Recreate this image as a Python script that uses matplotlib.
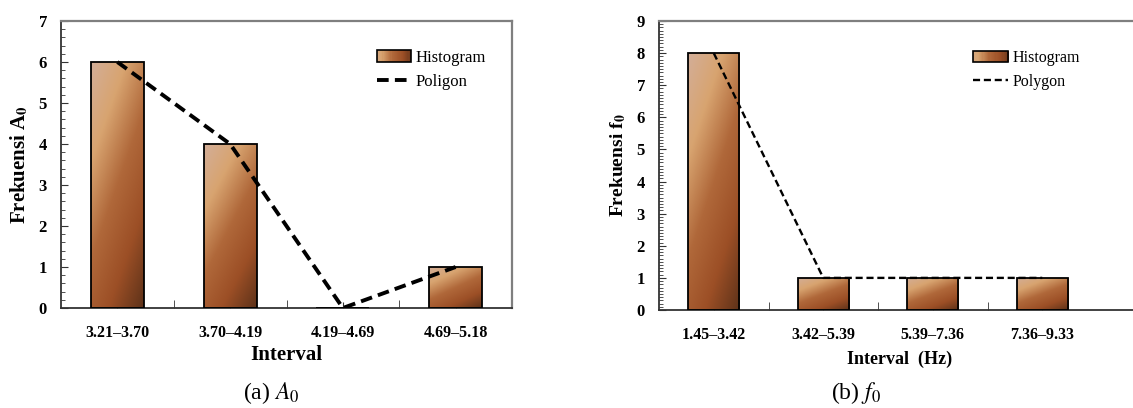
import numpy as np
import matplotlib
matplotlib.use("Agg")
import matplotlib.pyplot as plt
from matplotlib.colors import LinearSegmentedColormap
from matplotlib.legend_handler import HandlerBase
from matplotlib.patches import Rectangle
from matplotlib.lines import Line2D

plt.rcParams['font.family'] = ['Liberation Serif', 'DejaVu Serif']
plt.rcParams['mathtext.fontset'] = 'stix'

# data
a0_intervals = ['3.21–3.70', '3.70–4.19', '4.19–4.69', '4.69–5.18']
a0_freq = [6, 4, 0, 1]
f0_intervals = ['1.45–3.42', '3.42–5.39', '5.39–7.36', '7.36–9.33']
f0_freq = [8, 1, 1, 1]

cmap = LinearSegmentedColormap.from_list(
    'brown', ['#d3ae98', '#d8a470', '#b0683a', '#9c4f26', '#5e3219'])


class GradientHandler(HandlerBase):
    def create_artists(self, legend, orig, xd, yd, w, h, fs, trans):
        arts = []
        n = 30
        for k in range(n):
            arts.append(Rectangle((xd + w * k / n, yd), w / n + 0.3, h,
                                  facecolor=cmap(0.15 + 0.8 * k / n),
                                  edgecolor='none', transform=trans))
        arts.append(Rectangle((xd, yd), w, h, facecolor='none',
                              edgecolor='black', lw=1.2, transform=trans))
        return arts


def gradient_bars(ax, x, heights, width):
    bars = ax.bar(x, heights, width, facecolor='none', edgecolor='black',
                  lw=1.3, zorder=3)
    uu, vv = np.meshgrid(np.linspace(0, 1, 60), np.linspace(0, 1, 200))
    # light at top-left, dark at bottom-right
    t = (uu * 0.6 + vv * 1.0) / 1.6
    for b in bars:
        if b.get_height() <= 0:
            continue
        x0, y0 = b.get_x(), b.get_y()
        im = ax.imshow(t, cmap=cmap, vmin=0, vmax=1, origin='upper',
                       extent=[x0, x0 + b.get_width(), y0, y0 + b.get_height()],
                       aspect='auto', zorder=2, interpolation='bilinear')
        im.set_clip_path(b)
    return bars


def style(ax, xlim, ylim, minor_step, cats):
    ax.set_xlim(*xlim)
    ax.set_ylim(*ylim)
    ax.set_yticks(range(ylim[0], ylim[1] + 1))
    ax.set_yticks(np.arange(ylim[0], ylim[1] + 1e-6, minor_step), minor=True)
    ax.set_xticks(range(len(cats)))
    ax.set_xticklabels(cats, fontweight='bold', fontsize=11.5)
    ax.set_xticks(np.arange(0.5, len(cats) - 0.5), minor=True)
    ax.tick_params(axis='both', which='both', direction='in', color='#333333')
    ax.tick_params(axis='x', which='major', length=4, pad=12)
    ax.tick_params(axis='x', which='minor', length=6)
    ax.tick_params(axis='y', which='major', length=5, pad=10)
    ax.tick_params(axis='y', which='minor', length=3)
    for lab in ax.get_yticklabels():
        lab.set_fontweight('bold')
        lab.set_fontsize(12)
    for s in ['top', 'right']:
        ax.spines[s].set_color('#7f7f7f')
        ax.spines[s].set_linewidth(1.6)
    for s in ['left', 'bottom']:
        ax.spines[s].set_color('#333333')
        ax.spines[s].set_linewidth(1.3)


fig = plt.figure(figsize=(11.33, 4.08), dpi=100)
ax1 = fig.add_axes([61 / 1133, 100 / 408, 451 / 1133, 287 / 408])
ax2 = fig.add_axes([659 / 1133, 98 / 408, 481 / 1133, 289 / 408])

# (a) A0
x = np.arange(len(a0_intervals))
gradient_bars(ax1, x, a0_freq, 0.47)
ax1.plot(x, a0_freq, color='black', ls=(0, (3, 1.6)), lw=2.8, zorder=4)
style(ax1, (-0.5, 3.5), (0, 7), 0.2, a0_intervals)
ax1.set_xlabel('Interval', fontweight='bold', fontsize=15, labelpad=3)
ax1.set_ylabel(r'Frekuensi A$_\mathbf{0}$', fontweight='bold', fontsize=15,
               labelpad=6)
h1 = [Rectangle((0, 0), 1, 1), Line2D([], [], color='black', ls=(0, (3, 1.6)), lw=2.8)]
ax1.legend(h1, ['Histogram', 'Poligon'], handler_map={Rectangle: GradientHandler()},
           loc='upper left', bbox_to_anchor=(0.70, 0.90), frameon=False,
           borderpad=0, borderaxespad=0,
           fontsize=12, handlelength=2.05, handletextpad=0.25, labelspacing=0.5)

# (b) f0
x = np.arange(len(f0_intervals))
gradient_bars(ax2, x, f0_freq, 0.47)
ax2.plot(x, f0_freq, color='black', ls=(0, (3, 1.6)), lw=1.7, zorder=4)
style(ax2, (-0.5, 3.5 + 43 / 109.5), (0, 9), 0.1, f0_intervals)
ax2.spines['right'].set_visible(False)
ax2.set_xlabel('Interval  (Hz)', fontweight='bold', fontsize=13, labelpad=6)
ax2.set_ylabel(r'Frekuensi f$_\mathbf{0}$', fontweight='bold', fontsize=14,
               labelpad=6)
h2 = [Rectangle((0, 0), 1, 1), Line2D([], [], color='black', ls=(0, (3, 1.6)), lw=1.7)]
ax2.legend(h2, ['Histogram', 'Polygon'], handler_map={Rectangle: GradientHandler()},
           loc='upper left', bbox_to_anchor=(0.653, 0.90), frameon=False,
           borderpad=0, borderaxespad=0,
           fontsize=11.5, handlelength=2.2, handletextpad=0.25, labelspacing=0.5)

fig.text(271 / 1133, 1 - 393 / 408, r'(a) $\mathit{A}_\mathrm{0}$', fontsize=17,
         ha='center', va='center')
fig.text(856 / 1133, 1 - 393 / 408, r'(b) $\mathit{f}_\mathrm{0}$', fontsize=17,
         ha='center', va='center')

fig.savefig('out.png', dpi=100)
